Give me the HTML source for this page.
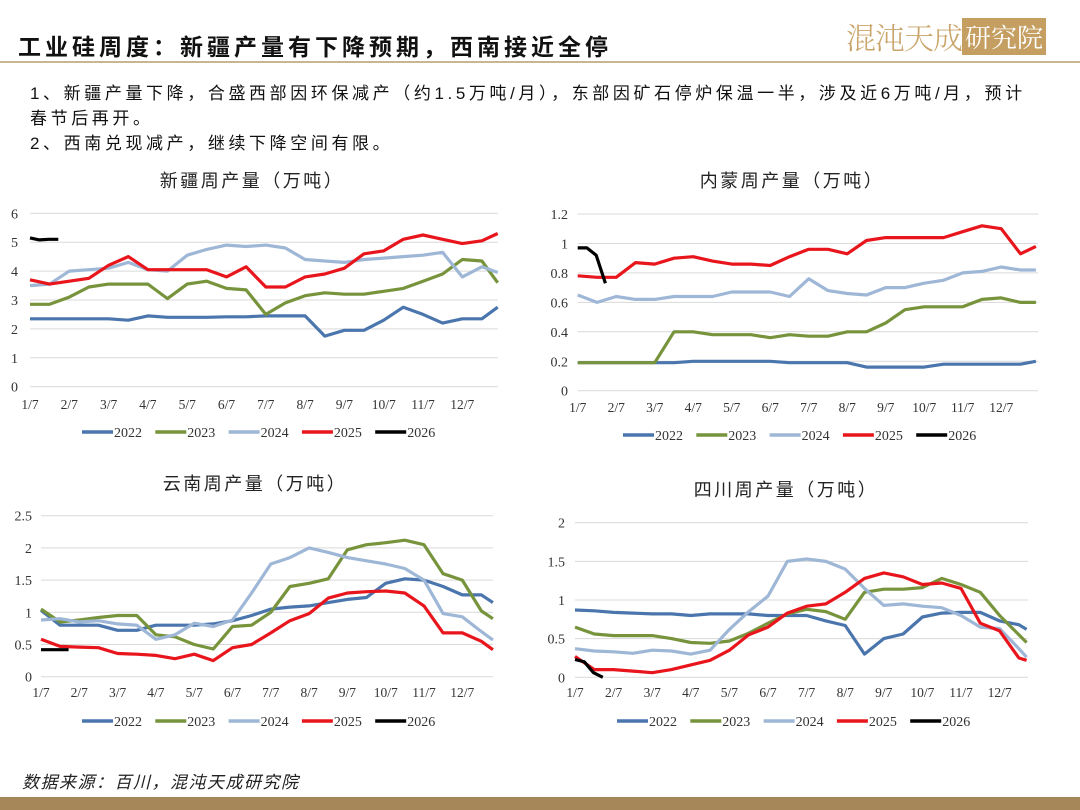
<!DOCTYPE html>
<html><head><meta charset="utf-8">
<style>
body{margin:0;width:1080px;height:810px;background:#fff;overflow:hidden;position:relative;font-family:"Liberation Sans","Noto Sans CJK SC",sans-serif}
.abs{position:absolute;white-space:nowrap}
</style></head><body>
<div class="abs" style="left:18px;top:28px;font-size:23px;font-weight:bold;color:#111;letter-spacing:4px;font-family:'Liberation Sans','Noto Sans CJK SC',sans-serif">工业硅周度：新疆产量有下降预期，西南接近全停</div>
<div class="abs" style="left:846px;top:14px;height:36px;">
  <span style="font-size:30px;color:#c9a56a;font-family:'Noto Serif CJK SC',serif;font-weight:300;vertical-align:middle;letter-spacing:-1px">混沌天成</span><span style="display:inline-block;background:#c59f62;color:#fff;font-size:26px;padding:0 3px;vertical-align:middle;font-family:'Noto Serif CJK SC',serif">研究院</span>
</div>
<div class="abs" style="left:0;top:61px;width:1080px;height:2px;background:#c8b593"></div>
<div class="abs" style="left:30px;top:81px;font-size:17px;color:#111;line-height:25px;letter-spacing:3.6px">1、新疆产量下降，合盛西部因环保减产（约1.5万吨/月），东部因矿石停炉保温一半，涉及近6万吨/月，预计<br>春节后再开。<br>2、西南兑现减产，继续下降空间有限。</div>
<div class="abs" style="left:22px;top:768px;font-size:17px;font-style:italic;color:#222;letter-spacing:1.5px">数据来源：百川，混沌天成研究院</div>
<div class="abs" style="left:0;top:797px;width:1080px;height:13px;background:#a5875a"></div>
<svg id="charts" width="1080" height="810" style="position:absolute;left:0;top:0"></svg>
<script>
const months = ["1/7","2/7","3/7","4/7","5/7","6/7","7/7","8/7","9/7","10/7","11/7","12/7"];
const years = ["2022","2023","2024","2025","2026"];
const colors = ["#4a76ad","#77943c","#9fb7d6","#e8161c","#000000"];
// Xinjiang
const xj2022 = [2.35,2.35,2.35,2.35,2.35,2.3,2.45,2.4,2.4,2.4,2.42,2.42,2.45,2.45,2.45,1.75,1.95,1.95,2.3,2.75,2.5,2.2,2.35,2.35,2.75];
const xj2023 = [2.85,2.85,3.1,3.45,3.55,3.55,3.55,3.05,3.55,3.65,3.4,3.35,2.5,2.9,3.15,3.25,3.2,3.2,3.3,3.4,3.65,3.9,4.4,4.35,3.6];
const xj2024 = [3.5,3.55,4.0,4.05,4.1,4.3,4.05,4.0,4.55,4.75,4.9,4.85,4.9,4.8,4.4,4.35,4.3,4.4,4.45,4.5,4.55,4.65,3.8,4.15,3.95];
const xj2025 = [3.7,3.55,3.65,3.75,4.2,4.5,4.05,4.05,4.05,4.05,3.8,4.15,3.45,3.45,3.8,3.9,4.1,4.6,4.7,5.1,5.25,5.1,4.95,5.05,5.3];
const xj2026 = [5.15,5.08,5.1,5.1];
// Inner Mongolia
const nm2022 = [0.19,0.19,0.19,0.19,0.19,0.19,0.2,0.2,0.2,0.2,0.2,0.19,0.19,0.19,0.19,0.16,0.16,0.16,0.16,0.18,0.18,0.18,0.18,0.18,0.2];
const nm2023 = [0.19,0.19,0.19,0.19,0.19,0.4,0.4,0.38,0.38,0.38,0.36,0.38,0.37,0.37,0.4,0.4,0.46,0.55,0.57,0.57,0.57,0.62,0.63,0.6,0.6];
const nm2024 = [0.65,0.6,0.64,0.62,0.62,0.64,0.64,0.64,0.67,0.67,0.67,0.64,0.76,0.68,0.66,0.65,0.7,0.7,0.73,0.75,0.8,0.81,0.84,0.82,0.82];
const nm2025 = [0.78,0.77,0.77,0.87,0.86,0.9,0.91,0.88,0.86,0.86,0.85,0.91,0.96,0.96,0.93,1.02,1.04,1.04,1.04,1.04,1.08,1.12,1.1,0.93,0.98];
const nm2026 = [0.97,0.97,0.92,0.73];
// Yunnan
const yn2022 = [1.03,0.8,0.8,0.8,0.72,0.72,0.8,0.8,0.8,0.82,0.87,0.95,1.05,1.08,1.1,1.15,1.2,1.23,1.45,1.52,1.5,1.4,1.27,1.27,1.15];
const yn2023 = [1.05,0.85,0.88,0.92,0.95,0.95,0.65,0.62,0.5,0.43,0.78,0.8,1.0,1.4,1.45,1.52,1.97,2.05,2.08,2.12,2.05,1.6,1.5,1.02,0.9];
const yn2024 = [0.88,0.9,0.85,0.87,0.82,0.8,0.58,0.65,0.83,0.78,0.88,1.3,1.75,1.85,2.0,1.93,1.85,1.8,1.75,1.68,1.5,0.98,0.93,0.7,0.57];
const yn2025 = [0.58,0.47,0.46,0.45,0.36,0.35,0.33,0.28,0.35,0.25,0.45,0.5,0.68,0.87,0.98,1.22,1.3,1.32,1.33,1.3,1.1,0.68,0.68,0.55,0.42];
const yn2026 = [0.42,0.42,0.42,0.42];
// Sichuan
const sc2022 = [0.87,0.86,0.84,0.83,0.82,0.82,0.8,0.82,0.82,0.82,0.8,0.8,0.8,0.73,0.67,0.3,0.5,0.56,0.78,0.83,0.84,0.84,0.73,0.68,0.62];
const sc2023 = [0.65,0.56,0.54,0.54,0.54,0.5,0.45,0.44,0.47,0.57,0.7,0.82,0.88,0.85,0.75,1.1,1.14,1.14,1.16,1.28,1.2,1.1,0.8,0.55,0.45];
const sc2024 = [0.37,0.34,0.33,0.31,0.35,0.34,0.3,0.35,0.62,0.85,1.05,1.5,1.53,1.5,1.4,1.15,0.93,0.95,0.92,0.9,0.8,0.65,0.63,0.37,0.26];
const sc2025 = [0.27,0.1,0.1,0.08,0.06,0.1,0.16,0.22,0.35,0.55,0.65,0.83,0.92,0.95,1.1,1.28,1.35,1.3,1.2,1.22,1.15,0.7,0.6,0.25,0.22];
const sc2026 = [0.23,0.2,0.06,0.0];
const xjTicks = [0,1,2,3,4,5,6];
const nmTicks = [0,0.2,0.4,0.6,0.8,1,1.2];
const ynTicks = [0,0.5,1,1.5,2,2.5];
const scTicks = [0,0.5,1,1.5,2];

const svg = document.getElementById('charts');
const NS = 'http://www.w3.org/2000/svg';
function mk(tag, attrs){const e=document.createElementNS(NS,tag);for(const k in attrs)e.setAttribute(k,attrs[k]);svg.appendChild(e);return e;}

function chart(cfg){
  const {key,title,titleX,titleY,left,mw,right,yBot,yTop,ticks,series,labelR,tickY,legX,legY} = cfg;
  const maxV = ticks[ticks.length-1];
  const xS = m => left + m*mw;
  const yS = v => yBot - (v/maxV)*(yBot-yTop);
  let t = mk('text',{x:titleX,y:titleY,'text-anchor':'middle','font-size':18,'letter-spacing':2.5,fill:'#222','font-family':'Liberation Sans, Noto Sans CJK SC, sans-serif'});
  t.textContent = title;
  
  
  ticks.forEach(v=>{
    const g = mk('line',{x1:left,x2:right,y1:yS(v),y2:yS(v),stroke:'#d9d9d9','stroke-width':1});
    
    
    const l = mk('text',{x:labelR,y:yS(v)+5,'text-anchor':'end','font-size':14,fill:'#333','font-family':'Liberation Serif, serif'});
    l.textContent = String(v);
    
    
  });
  months.forEach((m,i)=>{
    const l = mk('text',{x:xS(i),y:tickY,'text-anchor':'middle','font-size':13.5,fill:'#333','font-family':'Liberation Serif, serif'});
    l.textContent = m;
    
    
  });
  series.forEach((vals,si)=>{
    const step = si===4 ? 0.24 : 0.5;
    const pts = vals.map((v,i)=>xS(i===24&&si<4 ? cfg.endM : i*step).toFixed(1)+','+yS(v).toFixed(1)).join(' ');
    const p = mk('polyline',{points:pts,fill:'none',stroke:colors[si],'stroke-width':3.2,'stroke-linejoin':'round'});
    
    
  });
  years.forEach((y,i)=>{
    const x0 = legX + i*73.3;
    const ln = mk('line',{x1:x0,x2:x0+31,y1:legY,y2:legY,stroke:colors[i],'stroke-width':3.5});
    
    
    const tx = mk('text',{x:x0+32,y:legY+5,'font-size':14,fill:'#333','font-family':'Liberation Serif, serif'});
    tx.textContent = y;
    
    
  });
}
chart({key:'xinjiang',title:'新疆周产量（万吨）',titleX:252,titleY:187,left:30,mw:39.3,right:498,yBot:386.7,yTop:213.3,ticks:xjTicks,series:[xj2022,xj2023,xj2024,xj2025,xj2026],labelR:18,tickY:409,legX:82,legY:432,endM:11.9});
chart({key:'neimeng',title:'内蒙周产量（万吨）',titleX:792,titleY:187,left:577.7,mw:38.5,right:1038,yBot:390.7,yTop:214,ticks:nmTicks,series:[nm2022,nm2023,nm2024,nm2025,nm2026],labelR:568,tickY:412,legX:623,legY:435,endM:11.9});
chart({key:'yunnan',title:'云南周产量（万吨）',titleX:255,titleY:490,left:41,mw:38.3,right:493,yBot:676.7,yTop:515.7,ticks:ynTicks,series:[yn2022,yn2023,yn2024,yn2025,yn2026],labelR:32,tickY:697,legX:82,legY:721,endM:11.8});
chart({key:'sichuan',title:'四川周产量（万吨）',titleX:786,titleY:496,left:575,mw:38.6,right:1028,yBot:677.3,yTop:522.7,ticks:scTicks,series:[sc2022,sc2023,sc2024,sc2025,sc2026],labelR:565,tickY:697,legX:617,legY:721,endM:11.7});
</script>
</body></html>
